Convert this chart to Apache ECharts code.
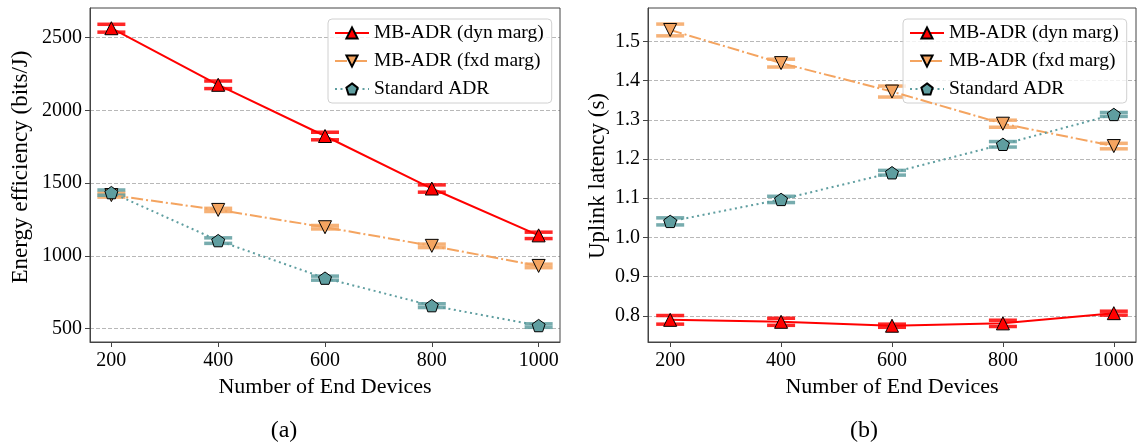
<!DOCTYPE html>
<html>
<head>
<meta charset="UTF-8">
<title>MB-ADR energy efficiency and uplink latency</title>
<script src="https://cdn.jsdelivr.net/npm/echarts@6.0.0/dist/echarts.min.js"></script>
<style>
  html, body { margin: 0; padding: 0; background: #fff; }
  #chart { width: 1144px; height: 444px; }
</style>
</head>
<body>
<div id="chart"></div>
<script>
// number of end devices
const devices = [200, 400, 600, 800, 1000];
const xTicks = [200, 400, 600, 800, 1000];

// (a) energy efficiency (bits/J)
const effDyn = [2565, 2176, 1824, 1463, 1141];
const effDynErr = [27, 26, 26, 25, 22];
const effFxd = [1418, 1316, 1197, 1069, 931];
const effFxdErr = [14, 11, 12, 12, 12];
const effStd = [1435, 1105, 847, 658, 521];
const effStdErr = [18, 19, 14, 13, 12];
const effTicks = [500, 1000, 1500, 2000, 2500];

// (b) uplink latency (s)
const latDyn = [0.790, 0.785, 0.775, 0.781, 0.807];
const latDynErr = [0.011, 0.009, 0.004, 0.008, 0.005];
const latFxd = [1.529, 1.4445, 1.372, 1.290, 1.233];
const latFxdErr = [0.015, 0.010, 0.014, 0.009, 0.007];
const latStd = [1.041, 1.097, 1.165, 1.2375, 1.3136];
const latStdErr = [0.009, 0.008, 0.006, 0.007, 0.005];
const latTicks = [0.8, 0.9, 1.0, 1.1, 1.2, 1.3, 1.4, 1.5];

const names = ['MB-ADR (dyn marg)', 'MB-ADR (fxd marg)', 'Standard ADR'];
const RED = '#ff0000', ORANGE = '#f4a460', TEAL = '#5f9ea0';
const FONT = 'Liberation Serif';
const PENTAGON = 'path://M0,-1 L0.951,-0.309 L0.588,0.809 L-0.588,0.809 L-0.951,-0.309 Z';

const chart = echarts.init(document.getElementById('chart'));

function pairs(ys) { return devices.map((x, i) => [x, ys[i]]); }

function lineSeries(name, idx, ys, color, dash, symbol, rotate) {
  return {
    type: 'line', name: name, xAxisIndex: idx, yAxisIndex: idx,
    data: pairs(ys),
    symbol: symbol, symbolSize: 13, symbolRotate: rotate, symbolKeepAspect: true,
    lineStyle: { color: color, width: 2, type: dash },
    itemStyle: { color: color, borderColor: '#000', borderWidth: 1 },
    z: 5, animation: false
  };
}

// error bars drawn as custom shapes from the data
function errSeries(idx, ys, errs, color, z) {
  return {
    type: 'custom', name: 'err', xAxisIndex: idx, yAxisIndex: idx,
    data: devices.map((x, i) => [x, ys[i], errs[i]]),
    encode: { x: 0, y: 1 },
    silent: true, z: z, animation: false,
    renderItem: function (params, api) {
      const x = api.value(0), y = api.value(1), e = api.value(2);
      const hi = api.coord([x, y + e]), lo = api.coord([x, y - e]);
      const w = 14;
      const cap = { stroke: color, lineWidth: 3.5, opacity: 0.85 };
      return {
        type: 'group',
        children: [
          { type: 'line', shape: { x1: hi[0], y1: hi[1], x2: lo[0], y2: lo[1] }, style: { stroke: color, lineWidth: 2, opacity: 0.85 } },
          { type: 'line', shape: { x1: hi[0] - w, y1: hi[1], x2: hi[0] + w, y2: hi[1] }, style: cap },
          { type: 'line', shape: { x1: lo[0] - w, y1: lo[1], x2: lo[0] + w, y2: lo[1] }, style: cap }
        ]
      };
    }
  };
}

function xAxis(idx) {
  return {
    type: 'value', gridIndex: idx, min: 160, max: 1040,
    name: 'Number of End Devices', nameLocation: 'middle', nameGap: 30,
    nameTextStyle: { fontSize: 22, fontFamily: FONT, color: '#000' },
    axisLine: { onZero: false, lineStyle: { color: '#444', width: 1 } },
    axisTick: { customValues: xTicks, length: 5, lineStyle: { color: '#444' } },
    axisLabel: { customValues: xTicks, fontSize: 20, fontFamily: FONT, color: '#000', margin: 9, formatter: v => String(v) },
    splitLine: { show: false }
  };
}

function yAxis(idx, min, max, ticks, fmt) {
  return {
    type: 'value', gridIndex: idx, min: min, max: max,
    axisLine: { show: true, onZero: false, lineStyle: { color: '#444', width: 1 } },
    axisTick: { customValues: ticks, length: 5, lineStyle: { color: '#444' } },
    axisLabel: { customValues: ticks, fontSize: 20, fontFamily: FONT, color: '#000', margin: 8, formatter: fmt },
    splitLine: { show: true, lineStyle: { color: '#b8b8b8', type: [4, 2], width: 1 } }
  };
}

function legend(left) {
  return {
    data: names, orient: 'vertical', left: left, top: 19,
    padding: [4, 8, 4, 6], itemGap: 8, itemWidth: 34, itemHeight: 14,
    backgroundColor: 'rgba(255,255,255,0.8)', borderColor: '#d0d0d0', borderWidth: 1, borderRadius: 4,
    textStyle: { fontSize: 19.5, fontFamily: FONT, color: '#000', lineHeight: 20 },
    selectedMode: false
  };
}

function label(text, x, y, size, rot) {
  return {
    type: 'text', x: x, y: y, rotation: rot, silent: true,
    style: { text: text, fontSize: size, fontFamily: FONT, fill: '#000', textAlign: 'center', textVerticalAlign: 'middle' }
  };
}

chart.setOption({
  animation: false,
  textStyle: { fontFamily: FONT },
  grid: [
    { left: 90, top: 8, width: 470, height: 334, outerBoundsMode: 'none' },
    { left: 648, top: 8, width: 488, height: 334, outerBoundsMode: 'none' }
  ],
  xAxis: [xAxis(0), xAxis(1)],
  yAxis: [
    yAxis(0, 408, 2704, effTicks, v => String(v)),
    yAxis(1, 0.7335, 1.585, latTicks, v => v.toFixed(1))
  ],
  legend: [legend(328), legend(903)],
  graphic: [
    { type: 'rect', shape: { x: 90, y: 8, width: 470, height: 334 }, style: { fill: 'none', stroke: '#444', lineWidth: 1 }, z: 10, silent: true },
    { type: 'rect', shape: { x: 648, y: 8, width: 488, height: 334 }, style: { fill: 'none', stroke: '#444', lineWidth: 1 }, z: 10, silent: true },
    label('Energy efficiency (bits/J)', 21, 167, 23, Math.PI / 2),
    label('Uplink latency (s)', 598, 176, 23, Math.PI / 2),
    label('(a)', 284, 431, 24, 0),
    label('(b)', 864, 431, 24, 0)
  ],
  series: [
    errSeries(0, effDyn, effDynErr, RED, 2),
    errSeries(0, effFxd, effFxdErr, ORANGE, 2),
    errSeries(0, effStd, effStdErr, TEAL, 3),
    lineSeries(names[0], 0, effDyn, RED, 'solid', 'triangle', 0),
    lineSeries(names[1], 0, effFxd, ORANGE, [12, 3, 2, 3], 'triangle', 180),
    lineSeries(names[2], 0, effStd, TEAL, [2, 3.5], PENTAGON, 0),
    errSeries(1, latDyn, latDynErr, RED, 2),
    errSeries(1, latFxd, latFxdErr, ORANGE, 2),
    errSeries(1, latStd, latStdErr, TEAL, 3),
    lineSeries(names[0], 1, latDyn, RED, 'solid', 'triangle', 0),
    lineSeries(names[1], 1, latFxd, ORANGE, [12, 3, 2, 3], 'triangle', 180),
    lineSeries(names[2], 1, latStd, TEAL, [2, 3.5], PENTAGON, 0)
  ]
});
</script>
</body>
</html>
